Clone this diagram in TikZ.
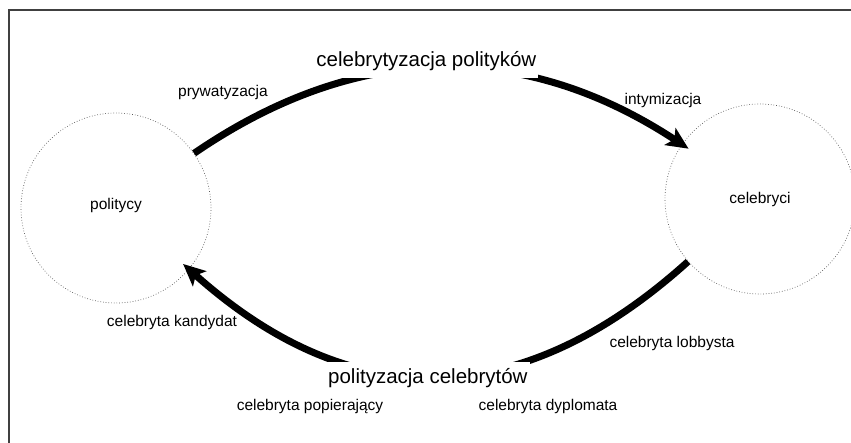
\documentclass[tikz,border=0pt]{standalone}
\usepackage{fontspec}
\setmainfont{Liberation Sans}
\usetikzlibrary{positioning,arrows.meta}

\begin{document}
\begin{tikzpicture}[x=1pt, y=-1pt,
    groupnode/.style={circle, draw=black!65, dotted, line width=0.7pt, minimum size=190pt, font=\fontsize{15.5}{18}\selectfont},
    phrase/.style={font=\fontsize{15.5}{18}\selectfont, inner sep=1pt},
    process/.style={font=\fontsize{20.5}{24}\selectfont, fill=white, text height=15pt, text depth=5pt, inner xsep=2pt, inner ysep=6.5pt},
    flow/.style={line width=7pt, shorten >=-8pt, -{Stealth[length=22pt, width=20pt, inset=5pt]}}]
    \useasboundingbox (0,0) rectangle (851,443);
    %Frame
    \draw[black!75, line width=1.3pt] (9,460) -- (9,10) -- (870,10);

    %Nodes
    \node[groupnode]        (pol)   at (116,208)    {\raisebox{8pt}{politycy}\hspace{10pt}};
    \node[groupnode]        (cel)   at (760,199)    {celebryci};
    \node[phrase]           (pryw)  at (223,92)     {prywatyzacja};
    \node[phrase]           (inty)  at (663,100)    {intymizacja};
    \node[phrase]           (kand)  at (172,322)    {celebryta kandydat};
    \node[phrase]           (lobb)  at (672,343)    {celebryta lobbysta};
    \node[phrase]           (popi)  at (310,406)    {celebryta popierający};
    \node[phrase]           (dypl)  at (548,406)    {celebryta dyplomata};

    %Lines
    \draw[flow] (pol.35) .. controls (358,41) and (523,40) .. (cel.145)
        node[process, pos=0.5, xshift=-13.5pt, yshift=6pt] (celpol) {celebrytyzacja polityków};
    \draw[flow] (cel.221) .. controls (519,414) and (351,414) .. (pol.-40)
        node[process, pos=0.5, xshift=-8pt, yshift=-2pt] (polcel) {polityzacja celebrytów};
\end{tikzpicture}
\end{document}
